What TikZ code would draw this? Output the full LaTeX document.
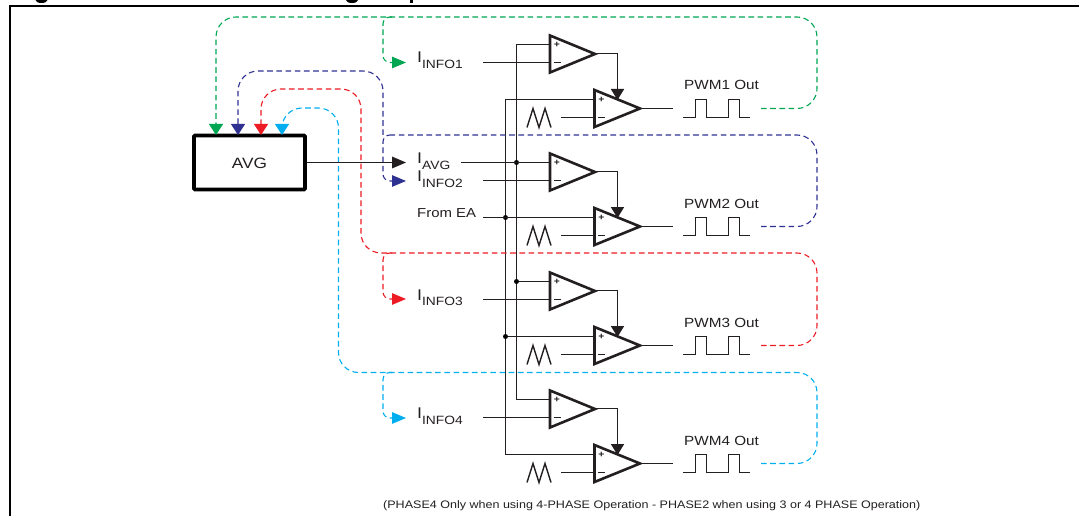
\documentclass[tikz,border=0pt]{standalone}
\usepackage{fontspec}
\setmainfont[FakeStretch=1.15]{Liberation Sans}
\usetikzlibrary{arrows.meta}
\definecolor{ink}{HTML}{231F20}
\definecolor{cg}{HTML}{00A651}
\definecolor{cb}{HTML}{2E3192}
\definecolor{cr}{HTML}{ED1C24}
\definecolor{cc}{HTML}{00AEEF}
\newcommand{\fsz}[1]{\fontsize{#1}{#1}\selectfont}
\newcommand{\isub}[1]{{\fsz{15.5}I}\raisebox{-5.7pt}{\fsz{12}#1}}
\tikzset{
  wire/.style={draw=ink,line width=1.7pt},
  amp/.style={draw=ink,line width=2.6pt,line join=miter,fill=none},
  lab/.style={inner sep=0pt,text=ink,anchor=base west},
  sign/.style={inner sep=0pt,text=ink,font=\fsz{9}\bfseries},
  dot/.style={circle,fill=black,inner sep=0pt,minimum size=5pt},
  fb/.style={line width=1.1pt,dash pattern=on 5.6pt off 3.6pt,rounded corners=20pt},
  fbs/.style={line width=1.1pt,dash pattern=on 5.6pt off 3.6pt,rounded corners=7pt},
  tiph/.style={-{Triangle[length=14pt,width=11.5pt]}},
  tipv/.style={-{Triangle[length=11pt,width=14pt]}},
  bigtip/.style={-{Triangle[length=11pt,width=13pt]}},
}
\begin{document}
\begin{tikzpicture}[x=1pt,y=-1pt]
\useasboundingbox (0,0) rectangle (1079,516);
\clip (0,0) rectangle (1079,516);
% clipped title descenders and frame
\fill[black] (41.5,0) ellipse [x radius=6pt,y radius=3pt];
\fill[black] (352,0) ellipse [x radius=6pt,y radius=3pt];
\fill[black] (410,0) rectangle (412.5,3);
\draw[black,line width=2pt] (10,516) -- (10,6) -- (1079,6);

% AVG box
\node[draw=black,line width=3.6pt,rounded corners=1pt,minimum width=111pt,minimum height=54pt,inner sep=0pt] (avg) at (249.5,162.5) {};
\node[inner sep=0pt,text=ink,font=\fsz{15},anchor=base] (avgt) at (249.5,168) {AVG};

% labels
\node[lab] (l1) at (417,63) {\isub{INFO1}};
\node[lab] (l2) at (417,181.5) {\isub{INFO2}};
\node[lab] (l3) at (417,300) {\isub{INFO3}};
\node[lab] (l4) at (417,418.5) {\isub{INFO4}};
\node[lab] (la) at (417,163.5) {\isub{AVG}};
\node[lab,font=\fsz{13}] (ea) at (417,217) {From EA};
\node[inner sep=0pt,text=ink,font=\fsz{10.9},anchor=base west] (note) at (383,508.5) {(PHASE4 Only when using 4-PHASE Operation - PHASE2 when using 3 or 4 PHASE Operation)};

% channel rows
\foreach \n/\yy in {1/0,2/118,3/237,4/355}{
\begin{scope}[yshift=-\yy pt]
  \coordinate (plusA\n) at (550,44.5);
  \coordinate (minusA\n) at (550,62.5);
  \coordinate (railA\n) at (516.5,44.5);
  \coordinate (plusB\n) at (594,99.5);
  \coordinate (minusB\n) at (594,117.5);
  \coordinate (railB\n) at (505.5,99.5);
  \coordinate (outA\n) at (595,53.5);
  \coordinate (elbow\n) at (617.5,53.5);
  \coordinate (hit\n) at (617.5,100);
  \coordinate (outB\n) at (640,108.5);
  \coordinate (wave\n) at (673,108.5);
  \coordinate (ramp\n) at (561,117.5);
  \coordinate (pwmend\n) at (761,108.5);
  \draw[amp] (550,35.5) -- (595,54) -- (550,72.5) -- cycle;
  \draw[amp] (594.5,90) -- (640,108.5) -- (594.5,127) -- cycle;
  \node[sign] (pa\n) at (557,44.5) {+};
  \node[sign] (ma\n) at (557,62.5) {\rule{7pt}{1.3pt}};
  \node[sign] (pb\n) at (601.5,99.5) {+};
  \node[sign] (mb\n) at (601.5,117.5) {\rule{7pt}{1.3pt}};
  \draw[wire] (outB\n) -- (wave\n);
  \draw[wire] (ramp\n) -- (minusB\n);
  \draw[wire,bigtip] (outA\n) -- (elbow\n) -- (hit\n);
  \draw[ink,line width=1.4pt,line join=miter] (527,127.5) -- (533,108.5) -- (539,127.5) -- (545,108.5) -- (551,127.5);
  \draw[ink,line width=1.5pt] (683,117.5) -- (695.5,117.5) -- (695.5,99.5) -- (706.5,99.5) -- (706.5,117.5) -- (728.5,117.5) -- (728.5,99.5) -- (739.5,99.5) -- (739.5,117.5) -- (750,117.5);
  \node[lab,font=\fsz{13.3}] (pwm\n) at (684,90) {PWM\n{} Out};
\end{scope}
}

% rails
\draw[wire] (railA1) -- (railA4);
\draw[wire] (railB1) -- (railB4);
\foreach \n in {1,3,4}{ \draw[wire] (railA\n) -- (plusA\n); }
\foreach \n in {1,3,4}{ \draw[wire] (railB\n) -- (plusB\n); }
\node[dot] (da2) at (railA2) {};
\node[dot] (da3) at (railA3) {};
\node[dot] (db2) at (railB2) {};
\node[dot] (db3) at (railB3) {};
\coordinate (la0) at (461,162.5);
\coordinate (ea0) at (483,217.5);
\draw[wire] (la0) -- (plusA2);
\draw[wire] (ea0) -- (plusB2);
\coordinate (s1) at (483,62.5);
\coordinate (s2) at (483,180.5);
\coordinate (s3) at (483,299.5);
\coordinate (s4) at (483,417.5);
\foreach \n in {1,2,3,4}{ \draw[wire] (s\n) -- (minusA\n); }

% feedback: green
\draw[cg,fb,tipv] (pwmend1) -- (817,108.5) -- (817,17) -- (216,17) -- (216,135);
\draw[cg,fbs,tiph] (392,17) -- (383,17) -- (383,62.5) -- (406,62.5);
% blue
\draw[cb,fb] (pwmend2) -- (817,226.5) -- (817,135) -- (392,135);
\draw[cb,fbs,tiph] (392,135) -- (383,135) -- (383,181) -- (406,181);
\draw[cb,fb,tipv] (383,135) -- (383,71) -- (238,71) -- (238,135);
% red
\draw[cr,fb,tipv] (pwmend3) -- (817,345.5) -- (817,253) -- (361,253) -- (361,89) -- (261,89) -- (261,135);
\draw[cr,fbs,tiph] (392,253) -- (383,253) -- (383,299) -- (406,299);
% cyan
\draw[cc,fb,tipv] (pwmend4) -- (817,463.5) -- (817,372.5) -- (338.5,372.5) -- (338.5,108) -- (282,108) -- (282,135);
\draw[cc,fbs,tiph] (392,372.5) -- (383,372.5) -- (383,418) -- (406,418);
% AVG output
\coordinate (iavgtip) at (406,162.5);
\draw[wire,tiph] (avg.east) -- (iavgtip);
\end{tikzpicture}
\end{document}
